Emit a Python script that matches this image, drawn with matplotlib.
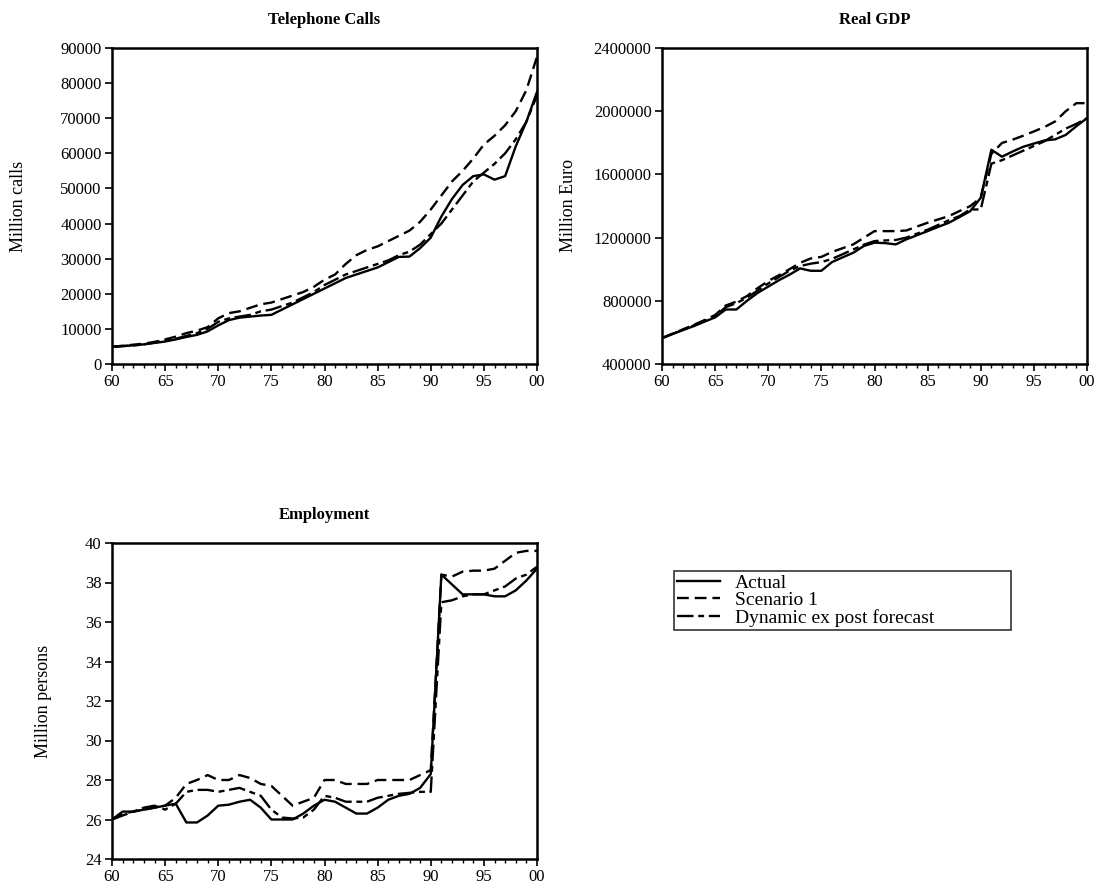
import matplotlib
matplotlib.use("Agg")
import matplotlib.pyplot as plt
import numpy as np

plt.rcParams['font.family'] = ['Liberation Serif', 'DejaVu Serif']

years = np.arange(1960, 2001)

# Telephone calls (million calls)
calls_actual = [4900, 5100, 5300, 5600, 6000, 6400, 7000, 7700, 8300, 9300,
                11000, 12500, 13200, 13500, 13800, 14000, 15500, 17000, 18500, 20000,
                21500, 23000, 24500, 25500, 26500, 27500, 29000, 30500, 30600, 33000,
                36000, 42000, 47000, 51000, 53500, 54000, 52500, 53500, 62000, 69000,
                77500]
calls_scen = [4900, 5200, 5500, 5800, 6300, 7000, 7800, 8800, 9500, 10500,
              13000, 14500, 15000, 16000, 17000, 17500, 18500, 19500, 20500, 22000,
              24000, 25500, 28500, 31000, 32500, 33500, 35000, 36500, 38000, 40500,
              44000, 48000, 52000, 55000, 58500, 62500, 65000, 68000, 72000, 78000,
              87500]
calls_dyn = [4900, 5100, 5300, 5600, 6100, 6600, 7200, 8000, 8800, 10000,
             12000, 13000, 13500, 14000, 15000, 15500, 16500, 17500, 19000, 20500,
             22500, 24000, 25500, 26500, 27500, 28500, 29500, 31000, 32000, 34000,
             37000, 40000, 44000, 48000, 52000, 54500, 57000, 60000, 64000, 69000,
             76500]

# Real GDP (million euro)
gdp_actual = [564000, 590000, 615000, 640000, 668000, 695000, 745000, 745000, 800000, 850000,
              890000, 930000, 965000, 1005000, 990000, 990000, 1045000, 1075000, 1104000, 1147000,
              1168000, 1165000, 1157000, 1189000, 1215000, 1241000, 1268000, 1294000, 1330000, 1367000,
              1452000, 1756000, 1712000, 1745000, 1775000, 1795000, 1815000, 1822000, 1850000, 1905000,
              1956000]
gdp_scen = [564000, 592000, 620000, 648000, 678000, 710000, 770000, 795000, 830000, 880000,
            925000, 962000, 1000000, 1040000, 1068000, 1078000, 1109000, 1133000, 1157000, 1199000,
            1241000, 1241000, 1241000, 1245000, 1270000, 1294000, 1315000, 1336000, 1368000, 1399000,
            1452000, 1730000, 1799000, 1820000, 1845000, 1872000, 1900000, 1935000, 2000000, 2051000,
            2051000]
gdp_dyn = [564000, 591000, 618000, 645000, 673000, 702000, 760000, 785000, 820000, 865000,
           910000, 950000, 990000, 1020000, 1035000, 1045000, 1065000, 1095000, 1125000, 1155000,
           1178000, 1182000, 1185000, 1200000, 1225000, 1250000, 1280000, 1310000, 1336000, 1378000,
           1378000, 1668000, 1690000, 1720000, 1750000, 1780000, 1810000, 1850000, 1890000, 1920000,
           1956000]

# Employment (million persons)
emp_actual = [26.0, 26.4, 26.4, 26.5, 26.6, 26.7, 26.8, 25.85, 25.85, 26.2,
              26.7, 26.75, 26.9, 27.0, 26.6, 26.0, 26.0, 26.0, 26.3, 26.7,
              27.0, 26.9, 26.6, 26.3, 26.3, 26.6, 27.0, 27.2, 27.3, 27.6,
              28.3, 38.4, 37.9, 37.4, 37.4, 37.4, 37.3, 37.3, 37.6, 38.1,
              38.7]
emp_scen = [26.0, 26.3, 26.4, 26.5, 26.6, 26.7, 27.1, 27.8, 28.0, 28.25,
            28.0, 28.0, 28.25, 28.1, 27.8, 27.7, 27.2, 26.7, 26.9, 27.1,
            28.0, 28.0, 27.8, 27.8, 27.8, 28.0, 28.0, 28.0, 28.0, 28.25,
            28.5, 38.4, 38.3, 38.55, 38.6, 38.6, 38.7, 39.1, 39.5, 39.6,
            39.6]
emp_dyn = [26.0, 26.2, 26.4, 26.6, 26.7, 26.5, 26.8, 27.4, 27.5, 27.5,
           27.4, 27.5, 27.6, 27.4, 27.2, 26.5, 26.1, 26.05, 26.1, 26.5,
           27.2, 27.1, 26.9, 26.9, 26.9, 27.1, 27.2, 27.3, 27.35, 27.4,
           27.4, 37.0, 37.1, 37.3, 37.4, 37.4, 37.6, 37.8, 38.2, 38.4,
           38.8]

series_names = ['Actual', 'Scenario 1', 'Dynamic ex post forecast']

fig = plt.figure(figsize=(11, 8.91), dpi=100)
W, H = 1100, 891


def px_axes(x0, y0, x1, y1):
    return fig.add_axes([x0 / W, 1 - y1 / H, (x1 - x0) / W, (y1 - y0) / H])


def style_panel(ax, title, ylabel, yticks, ylabels, lpad):
    ax.set_xlim(1960, 2000)
    ax.set_ylim(yticks[0], yticks[-1])
    ax.set_xticks(np.arange(1960, 2001, 5))
    ax.set_xticklabels([f"{y % 100:02d}" for y in range(1960, 2001, 5)])
    ax.set_xticks(years, minor=True)
    ax.set_yticks(yticks)
    ax.set_yticklabels(ylabels)
    ax.tick_params(axis='both', which='major', direction='out', length=5, width=1.2,
                   labelsize=12, pad=2.5)
    ax.tick_params(axis='x', which='minor', direction='out', length=3, width=1)
    ax.tick_params(axis='y', which='minor', left=False)
    for s in ax.spines.values():
        s.set_linewidth(1.8)
    ax.set_title(title, fontsize=12, fontweight='bold', pad=17)
    ax.set_ylabel(ylabel, fontsize=13, labelpad=lpad)


def draw(ax, a, s, d):
    ax.plot(years, a, color='black', lw=1.7, ls='-')
    ax.plot(years, s, color='black', lw=1.7, ls=(0, (5, 2.5)))
    ax.plot(years, d, color='black', lw=1.7, ls=(0, (7, 2, 2.5, 2)))


ax1 = px_axes(112, 48, 537, 364)
draw(ax1, calls_actual, calls_scen, calls_dyn)
t1 = np.arange(0, 90001, 10000)
style_panel(ax1, 'Telephone Calls', 'Million calls', t1, [str(v) for v in t1], 24)

ax2 = px_axes(662, 48, 1087, 364)
draw(ax2, gdp_actual, gdp_scen, gdp_dyn)
t2 = np.arange(400000, 2400001, 400000)
style_panel(ax2, 'Real GDP', 'Million Euro', t2, [str(v) for v in t2], 12)

ax3 = px_axes(112, 543, 537, 859)
draw(ax3, emp_actual, emp_scen, emp_dyn)
t3 = np.arange(24, 41, 2)
style_panel(ax3, 'Employment', 'Million persons', t3, [str(v) for v in t3], 24)

handles = ax3.get_lines()
leg = fig.legend(handles, series_names, loc='lower left',
                 bbox_to_anchor=(674 / W, 1 - 630 / H, (1011 - 674) / W, (630 - 567) / H),
                 mode='expand', borderaxespad=0, fontsize=14, handlelength=2.2,
                 handletextpad=0.8, labelspacing=0.0, borderpad=0.15,
                 frameon=True, fancybox=False)
leg.get_frame().set_edgecolor('black')
leg.get_frame().set_linewidth(1.2)

fig.savefig('out.png', dpi=100)
